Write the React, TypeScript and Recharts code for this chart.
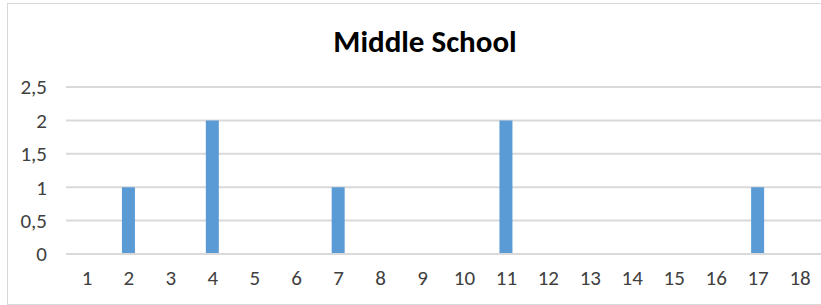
import { BarChart, Bar, XAxis, YAxis, CartesianGrid } from "recharts";

const categories = ["1", "2", "3", "4", "5", "6", "7", "8", "9", "10", "11", "12", "13", "14", "15", "16", "17", "18"];
const counts = [0, 1, 0, 2, 0, 0, 1, 0, 0, 0, 2, 0, 0, 0, 0, 0, 1, 0];
const yTicks = [0, 0.5, 1, 1.5, 2, 2.5];

const data = categories.map((c, i) => ({ name: c, value: counts[i] }));

const font = "Calibri, Carlito, 'Open Sans', sans-serif";

export default function App() {
  return (
    <div style={{ position: "absolute", left: 0, top: 0, width: 821, height: 305, overflow: "hidden", background: "#fff" }}>
      <div
        style={{
          position: "absolute",
          left: 7,
          top: 3,
          width: 830,
          height: 300,
          border: "1px solid #d9d9d9",
        }}
      />
      <div
        style={{
          position: "absolute",
          left: 275,
          width: 300,
          top: 22,
          lineHeight: "38px",
          textAlign: "center",
          fontFamily: font,
          fontWeight: 700,
          fontSize: 31,
          color: "#000",
        }}
      >
        Middle School
      </div>
      <div style={{ position: "absolute", left: 0, top: 0 }}>
        <BarChart width={821} height={305} data={data} margin={{ top: 87, right: 0, bottom: 21, left: 0 }} barSize={13}>
          <CartesianGrid vertical={false} stroke="#d9d9d9" strokeWidth={2} />
          <XAxis
            dataKey="name"
            height={30}
            tickLine={false}
            tickSize={0}
            tickMargin={16}
            axisLine={{ stroke: "#d9d9d9", strokeWidth: 2 }}
            interval={0}
            tick={{ fill: "#404040", fontSize: 21, fontFamily: font }}
          />
          <YAxis
            width={66}
            domain={[0, 2.5]}
            ticks={yTicks}
            axisLine={false}
            tickLine={false}
            tickSize={0}
            tickMargin={19}
            tickFormatter={(v: number) => String(v).replace(".", ",")}
            tick={{ fill: "#404040", fontSize: 21, fontFamily: font }}
          />
          <Bar dataKey="value" fill="#5b9bd5" isAnimationActive={false} />
        </BarChart>
      </div>
    </div>
  );
}
